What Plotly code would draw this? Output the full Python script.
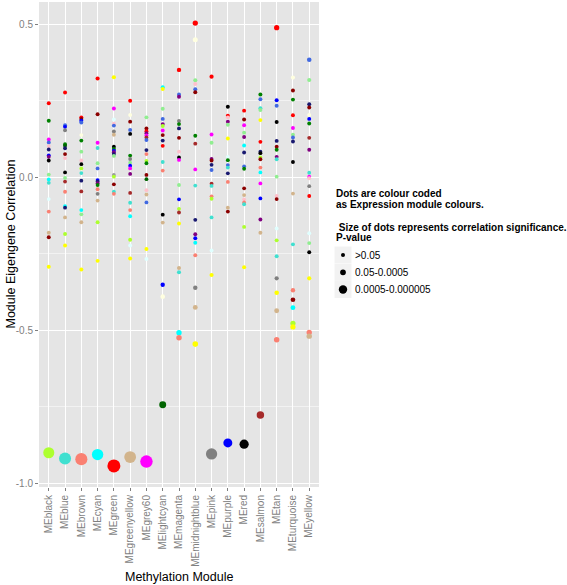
import numpy as np
import plotly.graph_objects as go

modules = ["MEblack", "MEblue", "MEbrown", "MEcyan", "MEgreen", "MEgreenyellow",
           "MEgrey60", "MElightcyan", "MEmagenta", "MEmidnightblue", "MEpink",
           "MEpurple", "MEred", "MEsalmon", "MEtan", "MEturquoise", "MEyellow"]

# correlation values (r) and expression-module colours for each methylation module
r_MEblack = [0.241, 0.184, 0.123, 0.113, 0.101, 0.090, 0.071, 0.066, 0.054, 0.008, -0.008,
             -0.019, -0.072, -0.113, -0.182, -0.197, -0.293, -0.901]
c_MEblack = ["red", "green", "magenta", "royalblue", "pink", "midnightblue", "blue", "purple",
             "black", "lightgreen", "cyan", "turquoise", "lightcyan", "salmon", "tan", "darkred",
             "yellow", "greenyellow"]
r_MEblue = [0.276, 0.169, 0.164, 0.153, 0.107, 0.102, 0.094, 0.075, 0.062, 0.015, -0.003,
            -0.015, -0.048, -0.095, -0.100, -0.132, -0.186, -0.224, -0.920]
c_MEblue = ["red", "royalblue", "blue", "grey", "green", "darkgreen", "midnightblue", "darkred",
            "pink", "black", "lightgreen", "brown", "salmon", "cyan", "midnightblue", "tan",
            "greenyellow", "yellow", "turquoise"]
r_MEbrown = [0.195, 0.190, 0.184, 0.178, 0.137, 0.119, 0.083, 0.054, 0.042, 0.028, 0.013,
             -0.012, -0.047, -0.108, -0.122, -0.148, -0.302, -0.922]
c_MEbrown = ["red", "darkred", "blue", "royalblue", "lightyellow", "green", "lightgreen", "pink",
             "black", "greenyellow", "turquoise", "midnightblue", "brown", "cyan", "lightgreen",
             "tan", "yellow", "salmon"]
r_MEcyan = [0.322, 0.205, 0.112, 0.095, 0.045, 0.028, -0.010, -0.015, -0.020, -0.026, -0.040,
            -0.055, -0.077, -0.148, -0.274, -0.907]
c_MEcyan = ["red", "darkred", "magenta", "turquoise", "lightgreen", "royalblue", "blue",
            "midnightblue", "purple", "green", "salmon", "grey", "tan", "greenyellow", "yellow",
            "cyan"]
r_MEgreen = [0.326, 0.224, 0.188, 0.174, 0.168, 0.149, 0.138, 0.099, 0.092, 0.086, 0.081, 0.075,
             0.069, 0.007, 0.001, -0.024, -0.048, -0.055, -0.944]
c_MEgreen = ["yellow", "magenta", "lightcyan", "pink", "royalblue", "grey", "tan", "black",
             "green", "blue", "purple", "midnightblue", "lightgreen", "#999999", "greenyellow",
             "darkred", "turquoise", "salmon", "red"]
r_MEgreenyellow = [0.249, 0.203, 0.181, 0.154, 0.141, 0.070, 0.059, 0.047, 0.037, 0.028, 0.010,
                   -0.052, -0.084, -0.108, -0.128, -0.205, -0.224, -0.266, -0.915]
c_MEgreenyellow = ["red", "lightyellow", "darkred", "royalblue", "black", "green", "grey",
                   "lightgreen", "blue", "magenta", "purple", "brown", "turquoise", "salmon",
                   "cyan", "greenyellow", "lightcyan", "yellow", "tan"]
r_MEgrey60 = [0.195, 0.159, 0.150, 0.143, 0.136, 0.129, 0.121, 0.088, 0.075, 0.053, 0.045,
              0.007, -0.007, -0.043, -0.057, -0.083, -0.235, -0.268, -0.930]
c_MEgrey60 = ["lightgreen", "darkred", "red", "purple", "magenta", "brown", "royalblue",
              "midnightblue", "salmon", "greenyellow", "green", "darkred", "darkgreen", "pink",
              "tan", "royalblue", "yellow", "lightcyan", "magenta"]
r_MElightcyan = [0.293, 0.288, 0.223, 0.190, 0.173, 0.167, 0.152, 0.137, 0.119, 0.102, 0.049,
                 0.021, -0.123, -0.149, -0.352, -0.391, -0.744]
c_MElightcyan = ["cyan", "yellow", "lightgreen", "royalblue", "purple", "greenyellow", "magenta",
                 "darkred", "midnightblue", "red", "turquoise", "salmon", "black", "tan", "blue",
                 "lightyellow", "darkgreen"]
r_MEmagenta = [0.350, 0.270, 0.262, 0.183, 0.173, 0.159, 0.128, 0.083, 0.064, 0.056, -0.026,
               -0.073, -0.104, -0.116, -0.152, -0.297, -0.311, -0.509, -0.525]
c_MEmagenta = ["red", "royalblue", "purple", "grey", "green", "midnightblue", "darkred", "pink",
               "black", "magenta", "lightgreen", "blue", "greenyellow", "brown", "yellow", "tan",
               "turquoise", "cyan", "salmon"]
r_MEmidnightblue = [0.503, 0.449, 0.316, 0.304, 0.287, 0.277, 0.135, 0.109, 0.025, -0.028,
                    -0.140, -0.187, -0.200, -0.215, -0.256, -0.362, -0.426, -0.546]
c_MEmidnightblue = ["red", "lightyellow", "lightgreen", "pink", "royalblue", "darkred", "green",
                    "brown", "magenta", "turquoise", "midnightblue", "purple", "blue", "cyan",
                    "salmon", "grey", "tan", "yellow"]
r_MEpink = [0.328, 0.139, 0.112, 0.059, 0.054, 0.040, 0.023, -0.022, -0.029, -0.063, -0.071,
            -0.132, -0.240, -0.320, -0.905]
c_MEpink = ["red", "magenta", "lightgreen", "purple", "darkred", "midnightblue", "royalblue",
            "brown", "turquoise", "salmon", "greenyellow", "turquoise", "lightcyan", "yellow",
            "grey"]
r_MEpurple = [0.230, 0.200, 0.195, 0.181, 0.171, 0.126, 0.066, 0.055, 0.039, 0.031, 0.012,
              -0.016, -0.100, -0.113, -0.869]
c_MEpurple = ["black", "red", "pink", "purple", "lightgreen", "yellow", "lightcyan", "green",
              "royalblue", "turquoise", "midnightblue", "salmon", "tan", "darkred", "blue"]
r_MEred = [0.217, 0.188, 0.169, 0.145, 0.131, 0.103, 0.080, 0.035, 0.027, -0.037, -0.059,
           -0.073, -0.083, -0.089, -0.163, -0.295, -0.873]
c_MEred = ["red", "darkred", "magenta", "lightgreen", "purple", "cyan", "midnightblue",
           "royalblue", "green", "darkred", "tan", "pink", "salmon", "turquoise", "greenyellow",
           "yellow", "black"]
r_MEsalmon = [0.270, 0.254, 0.225, 0.219, 0.186, 0.115, 0.083, 0.078, 0.064, 0.058, 0.031,
              0.015, -0.021, -0.070, -0.139, -0.182, -0.778]
c_MEsalmon = ["green", "royalblue", "turquoise", "lightgreen", "yellow", "red", "midnightblue",
              "black", "greenyellow", "darkred", "salmon", "cyan", "magenta", "blue", "purple",
              "tan", "brown"]
r_MEtan = [0.488, 0.251, 0.233, 0.180, 0.118, 0.099, 0.089, 0.066, 0.058, 0.001, -0.062, -0.072,
           -0.168, -0.207, -0.259, -0.331, -0.378, -0.437, -0.532]
c_MEtan = ["red", "blue", "royalblue", "black", "midnightblue", "darkred", "green", "purple",
           "turquoise", "lightgreen", "pink", "darkred", "lightcyan", "greenyellow", "turquoise",
           "grey", "yellow", "tan", "salmon"]
r_MEturquoise = [0.325, 0.283, 0.253, 0.202, 0.160, 0.138, 0.129, 0.116, 0.049, -0.054, -0.220,
                 -0.370, -0.401, -0.427, -0.478, -0.490]
c_MEturquoise = ["lightyellow", "darkred", "green", "red", "magenta", "lightgreen", "royalblue",
                 "midnightblue", "black", "tan", "turquoise", "salmon", "darkred", "cyan",
                 "greenyellow", "yellow"]
r_MEyellow = [0.383, 0.317, 0.238, 0.227, 0.203, 0.190, 0.175, 0.128, 0.089, 0.014, 0.001,
              -0.004, -0.030, -0.062, -0.184, -0.216, -0.246, -0.331, -0.508, -0.520]
c_MEyellow = ["royalblue", "lightgreen", "midnightblue", "darkred", "lightyellow", "blue",
              "green", "brown", "purple", "turquoise", "magenta", "pink", "grey", "red",
              "lightcyan", "lightgreen", "black", "yellow", "salmon", "tan"]

r_lists = [r_MEblack, r_MEblue, r_MEbrown, r_MEcyan, r_MEgreen, r_MEgreenyellow, r_MEgrey60,
           r_MElightcyan, r_MEmagenta, r_MEmidnightblue, r_MEpink, r_MEpurple, r_MEred,
           r_MEsalmon, r_MEtan, r_MEturquoise, r_MEyellow]
c_lists = [c_MEblack, c_MEblue, c_MEbrown, c_MEcyan, c_MEgreen, c_MEgreenyellow, c_MEgrey60,
           c_MElightcyan, c_MEmagenta, c_MEmidnightblue, c_MEpink, c_MEpurple, c_MEred,
           c_MEsalmon, c_MEtan, c_MEturquoise, c_MEyellow]

pvalue_labels = [">0.05", "0.05-0.0005", "0.0005-0.000005"]
ytick_vals = [-1.0, -0.5, 0.0, 0.5]
ytick_text = ["-1.0", "-0.5", "0.0", "0.5"]

W, H = 567, 585
ML, MR, MT, MB = 39, 248, 2, 98
PW, PH = W - ML - MR, H - MT - MB


def px(x):
    return (x - ML) / PW


def py(y):
    return 1 - (y - MT) / PH


def dot_size(r):
    a = abs(r)
    return float(np.interp(a, [0, 0.3, 0.45, 0.55, 0.75, 0.87, 0.9, 0.94],
                           [3.8, 4.0, 5.0, 5.6, 7.0, 9.0, 11.0, 13.0]))


fig = go.Figure()
for mod, rs, cs in zip(modules, r_lists, c_lists):
    fig.add_trace(go.Scatter(
        x=[mod] * len(rs), y=rs, mode="markers",
        marker=dict(color=cs, size=[dot_size(r) for r in rs], line=dict(width=0), opacity=1),
        showlegend=False, hoverinfo="x+y"))

font = "Liberation Sans, Arial, sans-serif"
annotations = [
    dict(text="Methylation Module", x=0.5, y=py(577), xref="paper", yref="paper",
         showarrow=False, font=dict(size=12.5, color="black", family=font), yanchor="middle"),
    dict(text="Module Eigengene Correlation", x=px(10), y=py(244.5), xref="paper", yref="paper",
         showarrow=False, textangle=-90, font=dict(size=12.5, color="black", family=font),
         xanchor="center", yanchor="middle"),
    dict(text="<b>Dots are colour coded</b>", x=px(334), y=py(194), xref="paper", yref="paper",
         showarrow=False, xanchor="left", yanchor="middle", font=dict(size=10, color="black", family=font)),
    dict(text="<b>as Expression module colours.</b>", x=px(334), y=py(204.5), xref="paper",
         yref="paper", showarrow=False, xanchor="left", yanchor="middle",
         font=dict(size=10, color="black", family=font)),
    dict(text="<b> Size of dots represents correlation significance.</b>", x=px(334), y=py(227),
         xref="paper", yref="paper", showarrow=False, xanchor="left", yanchor="middle",
         font=dict(size=10, color="black", family=font)),
    dict(text="<b>P-value</b>", x=px(334), y=py(237.5), xref="paper", yref="paper",
         showarrow=False, xanchor="left", yanchor="middle", font=dict(size=10, color="black", family=font)),
]
shapes = []
key_centers = [255, 272.3, 289.5]
key_sizes = [4, 5.8, 8.4]
for lab, cy, s in zip(pvalue_labels, key_centers, key_sizes):
    shapes.append(dict(type="rect", xref="paper", yref="paper", x0=px(334.5), x1=px(351.5),
                       y0=py(cy + 8.5), y1=py(cy - 8.5), fillcolor="#F2F2F2", line=dict(width=0),
                       layer="below"))
    shapes.append(dict(type="circle", xref="paper", yref="paper", xsizemode="pixel",
                       ysizemode="pixel", xanchor=px(343), yanchor=py(cy), x0=-s / 2, x1=s / 2,
                       y0=-s / 2, y1=s / 2, fillcolor="black", line=dict(width=0)))
    annotations.append(dict(text=lab, x=px(353), y=py(cy), xref="paper", yref="paper",
                            showarrow=False, xanchor="left", yanchor="middle",
                            font=dict(size=10, color="black", family=font)))

fig.update_layout(
    width=W, height=H, margin=dict(l=ML, r=MR, t=MT, b=MB, autoexpand=False),
    paper_bgcolor="white", plot_bgcolor="#E5E5E5",
    font=dict(family=font, color="#7F7F7F", size=10),
    showlegend=False,
    annotations=annotations, shapes=shapes,
    xaxis=dict(type="category", categoryorder="array", categoryarray=modules,
               range=[-0.6, len(modules) - 0.4], showgrid=True, gridcolor="white", gridwidth=1.1,
               zeroline=False, showline=False, ticks="outside", ticklen=3, tickcolor="#7F7F7F",
               tickangle=-90, tickfont=dict(size=10, color="#7F7F7F"), automargin=False),
    yaxis=dict(range=[-1.013, 0.572], tickvals=ytick_vals, ticktext=ytick_text, showgrid=True,
               gridcolor="white", gridwidth=1.1, zeroline=False, showline=False, ticks="outside",
               ticklen=3, tickcolor="#7F7F7F", tickfont=dict(size=10, color="#7F7F7F"),
               automargin=False,
               minor=dict(tickvals=[-0.75, -0.25, 0.25], showgrid=True, gridcolor="#F2F2F2",
                          gridwidth=0.6, ticks="")),
)

fig.write_html("out.html", config={"displayModeBar": False},
               post_script="document.body.style.margin='0';document.body.style.padding='0';")
